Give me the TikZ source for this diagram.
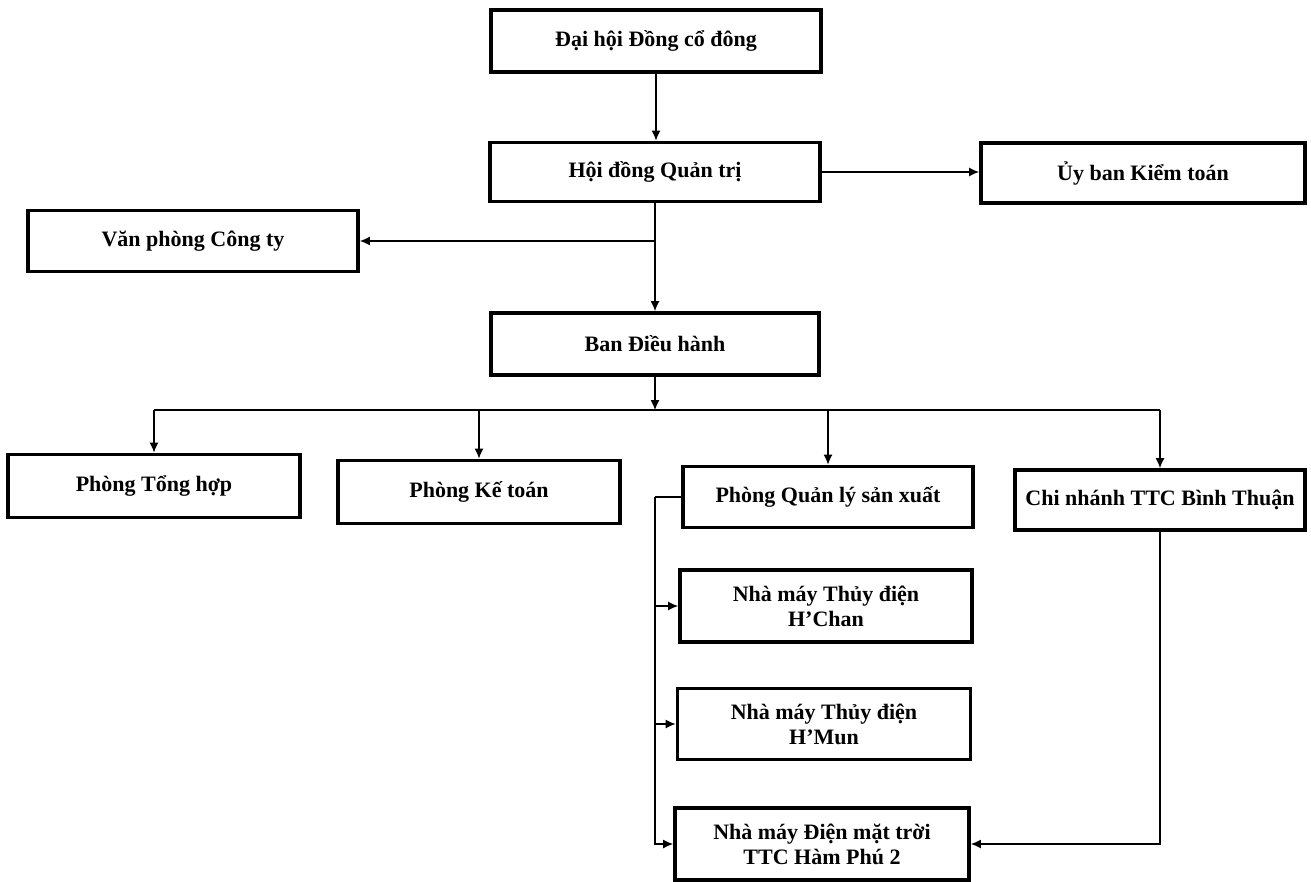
\documentclass[tikz,border=0pt]{standalone}
\usepackage{fontspec}
\setmainfont{Liberation Serif}
\usetikzlibrary{arrows.meta}
\begin{document}
\begin{tikzpicture}[
        x=0.5pt, y=-0.5pt,
        every node/.style = {
            shape=rectangle,
            draw,
            line width=1.9pt,
            align=center,
            inner sep=0pt,
            font=\bfseries\fontsize{11}{12.5}\selectfont
        },
        lig/.style={draw, line width=0.6pt, -{Latex[length=5pt,width=4.5pt]}}
    ]
    \useasboundingbox (0,0) rectangle (1311,882);

    % TOPO
    \node (dhdcd) at (656,41) [minimum width=165pt, minimum height=31pt] {Đại hội Đồng cổ đông};
    \node (hdqt) at (655,172) [minimum width=165pt, minimum height=29.5pt] {Hội đồng Quản trị};
    \node (ubkt) at (1143,173) [minimum width=162pt, minimum height=30pt] {Ủy ban Kiểm toán};
    \node (vpct) at (193,241) [minimum width=165pt, minimum height=30.5pt] {Văn phòng Công ty};
    \node (bdh) at (655,344) [minimum width=164pt, minimum height=31pt] {Ban Điều hành};

    % PHONG BAN
    \node (pth) at (154,486) [minimum width=146pt, minimum height=31.5pt] {Phòng Tổng hợp};
    \node (pkt) at (479,492) [minimum width=141pt, minimum height=31.5pt] {Phòng Kế toán};
    \node (pqlsx) at (828,497) [minimum width=145pt, minimum height=30.5pt] {Phòng Quản lý sản xuất};
    \node (cnbt) at (1160,500) [minimum width=145pt, minimum height=30pt] {Chi nhánh TTC Bình Thuận};

    % NHA MAY
    \node (nmhc) at (826,606) [minimum width=146pt, minimum height=36pt] {Nhà máy Thủy điện \\ H’Chan};
    \node (nmhm) at (824,724) [minimum width=146.5pt, minimum height=35.5pt] {Nhà máy Thủy điện \\ H’Mun};
    \node (nmdmt) at (822,844) [minimum width=147pt, minimum height=36pt] {Nhà máy Điện mặt trời \\ TTC Hàm Phú 2};

    % LIGACOES
    \coordinate (bus) at (655,410);
    \coordinate (esq) at (655,488);
    \draw[lig] (dhdcd.south) -- (dhdcd.south |- hdqt.north);
    \draw[lig] (hdqt.east) -- (hdqt.east -| ubkt.west);
    \draw[lig] (hdqt.south) -- (bdh.north);
    \draw[lig] (hdqt.south |- vpct.east) -- (vpct.east);
    \draw[lig] (bdh.south) -- (bdh.south |- bus);
    \draw[line width=0.6pt] (pth.north |- bus) -- (cnbt.north |- bus);
    \foreach \n in {pth, pkt, pqlsx, cnbt}
        \draw[lig] (\n.north |- bus) -- (\n.north);
    \draw[line width=0.6pt] (pqlsx.west) -- (pqlsx.west -| esq);
    \draw[lig] (pqlsx.west -| esq) |- (nmdmt.west);
    \draw[lig] (esq |- nmhc.west) -- (nmhc.west);
    \draw[lig] (esq |- nmhm.west) -- (nmhm.west);
    \draw[lig] (cnbt.south) |- (nmdmt.east);
\end{tikzpicture}
\end{document}
